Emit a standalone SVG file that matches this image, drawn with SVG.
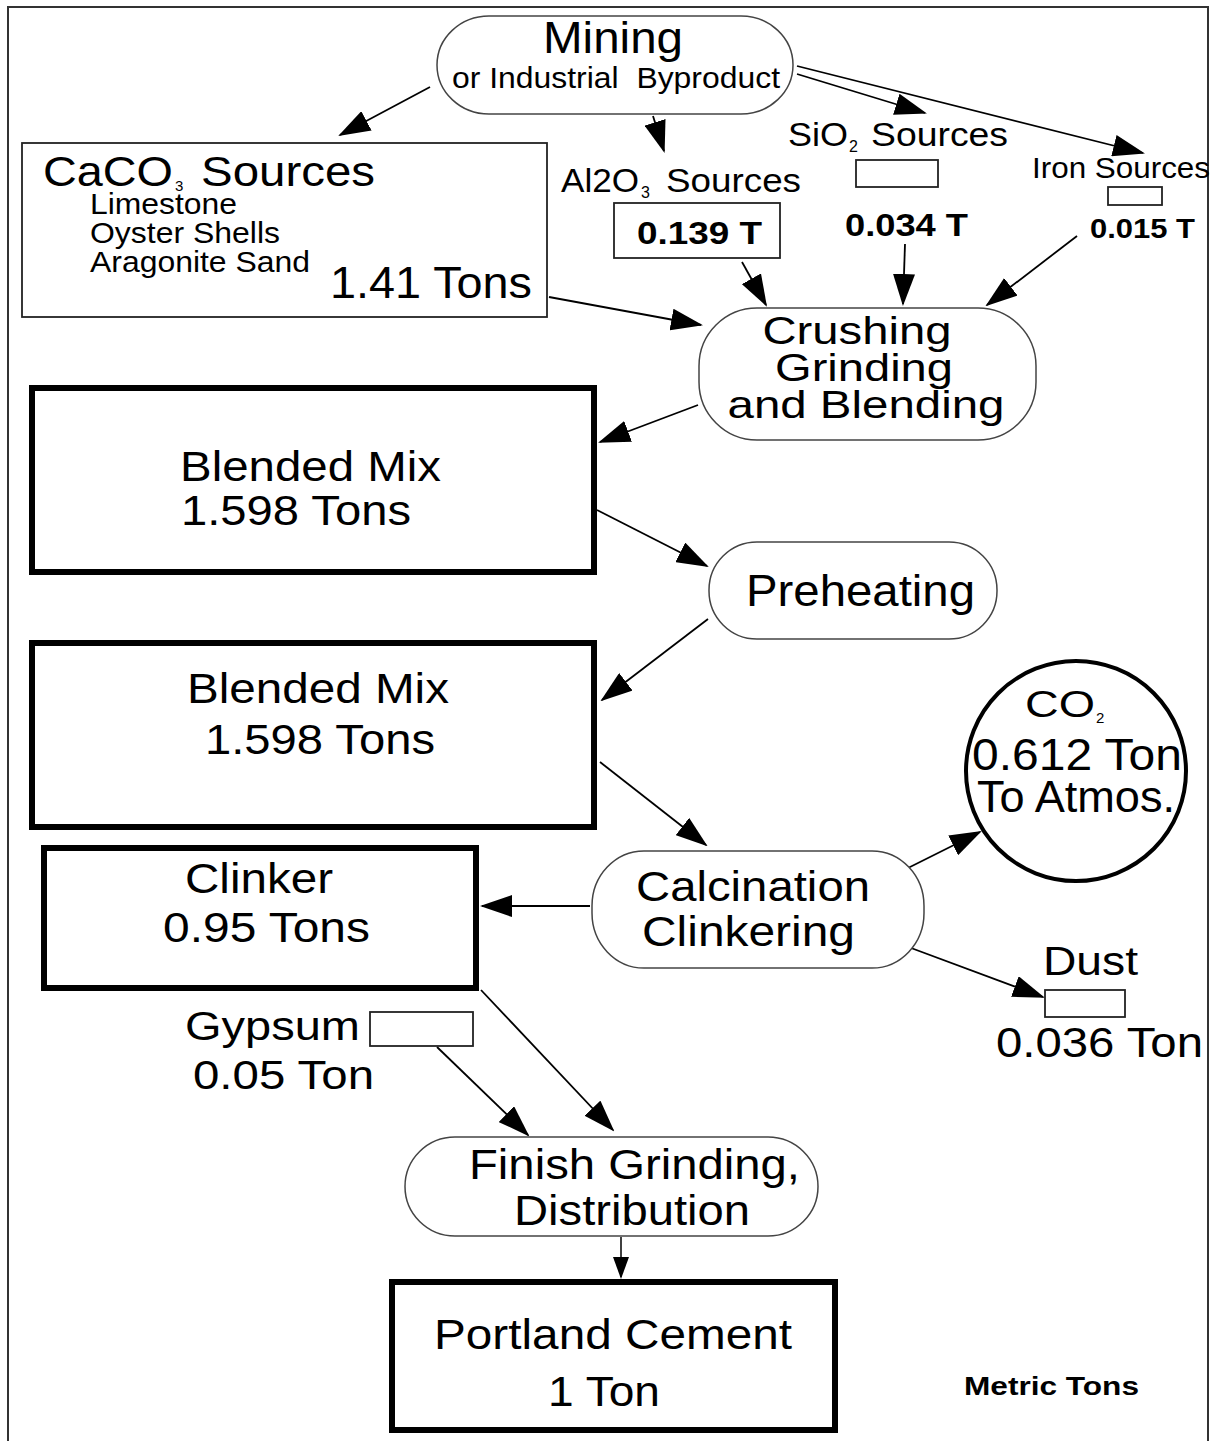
<svg xmlns="http://www.w3.org/2000/svg" width="1212" height="1441" viewBox="0 0 1212 1441">
  <style>
    text { font-family: "Liberation Sans", Arial, sans-serif; fill: #000; }
    .pill { fill: #fff; stroke: #444; stroke-width: 1.5; }
    .thin { fill: #fff; stroke: #222; stroke-width: 1.8; }
    .thick { fill: #fff; stroke: #000; stroke-width: 6; }
    .edge { stroke: #000; stroke-width: 1.8; fill: none; marker-end: url(#arrow); }
    .edge-s { stroke: #000; stroke-width: 1.5; fill: none; marker-end: url(#arrow-s); }
    .b { font-weight: bold; }
  </style>
  <defs>
    <marker id="arrow" markerUnits="userSpaceOnUse" markerWidth="32" markerHeight="22" refX="30" refY="11" orient="auto">
      <path d="M0,0 L32,11 L0,22 z" fill="#000"/>
    </marker>
    <marker id="arrow-s" markerUnits="userSpaceOnUse" markerWidth="22" markerHeight="16" refX="20" refY="8" orient="auto">
      <path d="M0,0 L22,8 L0,16 z" fill="#000"/>
    </marker>
  </defs>

  <rect width="1212" height="1441" fill="#fff"/>
  <!-- page frame (open at the bottom) -->
  <path d="M8,1441 V7 H1208 V1441" fill="none" stroke="#333" stroke-width="2"/>

  <g id="connectors">
    <line class="edge" x1="430" y1="87" x2="340" y2="135"/>
    <line class="edge" x1="653" y1="116" x2="664" y2="151"/>
    <line class="edge" x1="797" y1="74" x2="925" y2="113"/>
    <line class="edge" x1="797" y1="66" x2="1143" y2="153"/>
    <line class="edge" x1="549" y1="297" x2="701" y2="325"/>
    <line class="edge" x1="742" y1="262" x2="766" y2="305"/>
    <line class="edge" x1="905" y1="244" x2="903" y2="304"/>
    <line class="edge" x1="1077" y1="236" x2="987" y2="305"/>
    <line class="edge" x1="698" y1="405" x2="600" y2="442"/>
    <line class="edge" x1="597" y1="510" x2="707" y2="566"/>
    <line class="edge" x1="708" y1="619" x2="602" y2="700"/>
    <line class="edge" x1="600" y1="762" x2="706" y2="845"/>
    <line class="edge" x1="590" y1="906" x2="482" y2="906"/>
    <line class="edge" x1="884" y1="880" x2="980" y2="832"/>
    <line class="edge" x1="903" y1="945" x2="1043" y2="997"/>
    <line class="edge" x1="481" y1="990" x2="613" y2="1130"/>
    <line class="edge" x1="437" y1="1047" x2="528" y2="1135"/>
    <line class="edge-s" x1="621" y1="1237" x2="621" y2="1277"/>
  </g>

  <g id="mining">
    <rect class="pill" x="437" y="16" width="356" height="98" rx="52" ry="49"/>
    <text x="613" y="53" font-size="44" text-anchor="middle" textLength="140" lengthAdjust="spacingAndGlyphs">Mining</text>
    <text x="452" y="88" font-size="30" textLength="328" lengthAdjust="spacingAndGlyphs" xml:space="preserve">or Industrial  Byproduct</text>
  </g>

  <g id="caco3">
    <rect class="thin" x="22" y="143" width="525" height="174"/>
    <text x="43" y="186" font-size="42" textLength="130" lengthAdjust="spacingAndGlyphs">CaCO</text>
    <text x="175" y="191" font-size="15">3</text>
    <text x="201" y="186" font-size="42" textLength="174" lengthAdjust="spacingAndGlyphs">Sources</text>
    <text x="90" y="214" font-size="29" textLength="147" lengthAdjust="spacingAndGlyphs">Limestone</text>
    <text x="90" y="243" font-size="29" textLength="190" lengthAdjust="spacingAndGlyphs">Oyster Shells</text>
    <text x="90" y="272" font-size="29" textLength="220" lengthAdjust="spacingAndGlyphs">Aragonite Sand</text>
    <text x="330" y="298" font-size="44" textLength="202" lengthAdjust="spacingAndGlyphs">1.41 Tons</text>
  </g>

  <g id="al2o3">
    <text x="561" y="192" font-size="34" textLength="78" lengthAdjust="spacingAndGlyphs">Al2O</text>
    <text x="641" y="198" font-size="16">3</text>
    <text x="666" y="192" font-size="34" textLength="135" lengthAdjust="spacingAndGlyphs">Sources</text>
    <rect class="thin" x="614" y="203" width="166" height="55"/>
    <text class="b" x="637" y="244" font-size="32" textLength="125" lengthAdjust="spacingAndGlyphs">0.139 T</text>
  </g>

  <g id="sio2">
    <text x="788" y="146" font-size="34" textLength="60" lengthAdjust="spacingAndGlyphs">SiO</text>
    <text x="849" y="152" font-size="16">2</text>
    <text x="871" y="146" font-size="34" textLength="137" lengthAdjust="spacingAndGlyphs">Sources</text>
    <rect class="thin" x="856" y="160" width="82" height="27"/>
    <text class="b" x="845" y="236" font-size="32" textLength="123" lengthAdjust="spacingAndGlyphs">0.034 T</text>
  </g>

  <g id="iron">
    <text x="1032" y="178" font-size="30" textLength="178" lengthAdjust="spacingAndGlyphs">Iron Sources</text>
    <rect class="thin" x="1108" y="187" width="54" height="18"/>
    <text class="b" x="1090" y="238" font-size="27" textLength="105" lengthAdjust="spacingAndGlyphs">0.015 T</text>
  </g>

  <g id="crushing">
    <rect class="pill" x="699" y="308" width="337" height="132" rx="58" ry="58"/>
    <text x="857" y="344" font-size="39" text-anchor="middle" textLength="189" lengthAdjust="spacingAndGlyphs">Crushing</text>
    <text x="864" y="381" font-size="39" text-anchor="middle" textLength="178" lengthAdjust="spacingAndGlyphs">Grinding</text>
    <text x="866" y="418" font-size="39" text-anchor="middle" textLength="277" lengthAdjust="spacingAndGlyphs">and Blending</text>
  </g>

  <g id="blended-mix-1">
    <rect class="thick" x="32" y="388" width="562" height="184"/>
    <text x="180" y="481" font-size="42" textLength="261" lengthAdjust="spacingAndGlyphs">Blended Mix</text>
    <text x="181" y="525" font-size="42" textLength="230" lengthAdjust="spacingAndGlyphs">1.598 Tons</text>
  </g>

  <g id="preheating">
    <rect class="pill" x="709" y="542" width="288" height="97" rx="48" ry="48"/>
    <text x="746" y="606" font-size="44" textLength="229" lengthAdjust="spacingAndGlyphs">Preheating</text>
  </g>

  <g id="blended-mix-2">
    <rect class="thick" x="32" y="643" width="562" height="184"/>
    <text x="187" y="703" font-size="42" textLength="262" lengthAdjust="spacingAndGlyphs">Blended Mix</text>
    <text x="205" y="754" font-size="42" textLength="230" lengthAdjust="spacingAndGlyphs">1.598 Tons</text>
  </g>

  <g id="co2">
    <circle cx="1076" cy="771" r="110" fill="#fff" stroke="#000" stroke-width="4"/>
    <text x="1025" y="717" font-size="36" textLength="70" lengthAdjust="spacingAndGlyphs">CO</text>
    <text x="1096" y="723" font-size="15">2</text>
    <text x="972" y="770" font-size="44" textLength="210" lengthAdjust="spacingAndGlyphs">0.612 Ton</text>
    <text x="977" y="812" font-size="44" textLength="198" lengthAdjust="spacingAndGlyphs">To Atmos.</text>
  </g>

  <g id="calcination">
    <rect class="pill" x="592" y="851" width="332" height="117" rx="52" ry="55"/>
    <text x="636" y="901" font-size="42" textLength="234" lengthAdjust="spacingAndGlyphs">Calcination</text>
    <text x="642" y="946" font-size="42" textLength="213" lengthAdjust="spacingAndGlyphs">Clinkering</text>
  </g>

  <g id="clinker">
    <rect class="thick" x="44" y="848" width="432" height="140"/>
    <text x="185" y="893" font-size="42" textLength="148" lengthAdjust="spacingAndGlyphs">Clinker</text>
    <text x="163" y="942" font-size="42" textLength="207" lengthAdjust="spacingAndGlyphs">0.95 Tons</text>
  </g>

  <g id="dust">
    <text x="1043" y="975" font-size="40" textLength="95" lengthAdjust="spacingAndGlyphs">Dust</text>
    <rect class="thin" x="1045" y="990" width="80" height="27"/>
    <text x="996" y="1057" font-size="42" textLength="207" lengthAdjust="spacingAndGlyphs">0.036 Ton</text>
  </g>

  <g id="gypsum">
    <text x="185" y="1040" font-size="40" textLength="175" lengthAdjust="spacingAndGlyphs">Gypsum</text>
    <rect class="thin" x="370" y="1012" width="103" height="34"/>
    <text x="193" y="1089" font-size="40" textLength="181" lengthAdjust="spacingAndGlyphs">0.05 Ton</text>
  </g>

  <g id="finish-grinding">
    <rect class="pill" x="405" y="1137" width="413" height="99" rx="50" ry="50"/>
    <text x="469" y="1179" font-size="42" textLength="331" lengthAdjust="spacingAndGlyphs">Finish Grinding,</text>
    <text x="514" y="1225" font-size="42" textLength="236" lengthAdjust="spacingAndGlyphs">Distribution</text>
  </g>

  <g id="portland-cement">
    <rect class="thick" x="392" y="1282" width="443" height="148"/>
    <text x="434" y="1349" font-size="42" textLength="358" lengthAdjust="spacingAndGlyphs">Portland Cement</text>
    <text x="548" y="1406" font-size="42" textLength="112" lengthAdjust="spacingAndGlyphs">1 Ton</text>
  </g>

  <g id="legend">
    <text class="b" x="964" y="1395" font-size="26" textLength="175" lengthAdjust="spacingAndGlyphs">Metric Tons</text>
  </g>
</svg>
